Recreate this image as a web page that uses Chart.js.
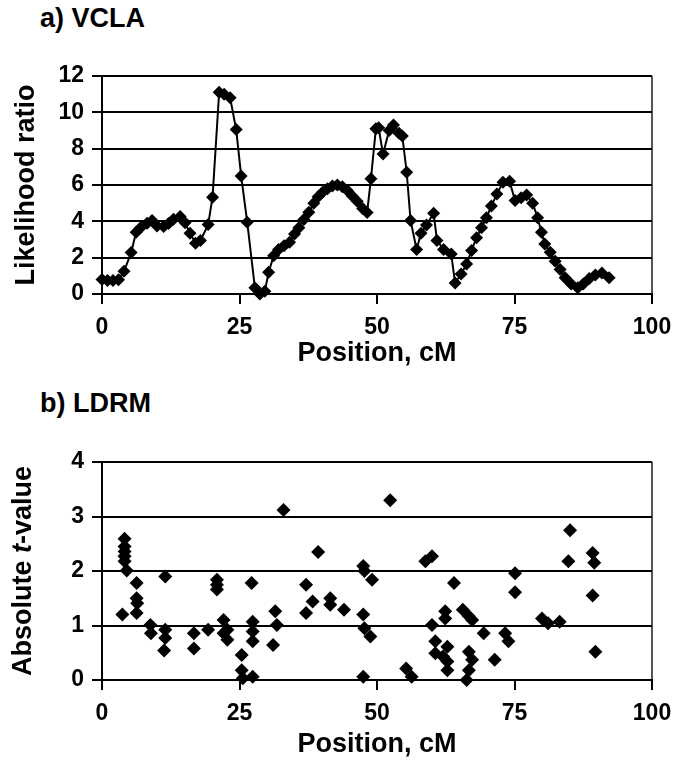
<!DOCTYPE html>
<html>
<head>
<meta charset="utf-8">
<script src="https://cdn.jsdelivr.net/npm/chart.js@4.4.1/dist/chart.umd.min.js"></script>
<style>
  body { margin: 0; background: #fff; }
  #wrap { position: relative; width: 675px; height: 763px; overflow: hidden; }
  canvas { position: absolute; left: 0; }
  .head { position: absolute; left: 40px; font: bold 27px "Liberation Sans", Arial, sans-serif; color: #000; }
</style>
</head>
<body>
<div id="wrap">
  <div class="head" style="top:3px">a) VCLA</div>
  <canvas id="vcla" width="675" height="380" style="top:0"></canvas>
  <div class="head" style="top:388px">b) LDRM</div>
  <canvas id="ldrm" width="675" height="383" style="top:380px"></canvas>
</div>
<script>
// a) VCLA - likelihood ratio along position
var vclaPos = [0, 1, 2, 3, 4, 5.3, 6.2, 7, 8.2, 9.1, 10, 11.2, 12.1, 13, 14.2, 15.1, 16, 17, 17.9, 19.3,
  20.1, 21.3, 22.2, 23.3, 24.4, 25.3, 26.4, 27.8, 28.7, 29.6, 30.3, 31.2, 32.1, 33.1, 34.1, 35, 35.8,
  36.7, 37.6, 38.5, 39.3, 40.1, 41, 41.9, 42.8, 43.7, 44.6, 45.5, 46.4, 47.4, 48.2, 48.9, 49.8, 50.3,
  51.1, 52.2, 53, 54, 54.6, 55.4, 56.1, 57.2, 58, 59, 60.3, 60.9, 62.1, 63.5, 64.2, 65.3, 66.3, 67.2,
  68.1, 69, 69.9, 70.8, 71.8, 72.9, 74.1, 75.1, 76.2, 77.2, 78.3, 79.2, 79.9, 80.5, 81.5, 82.4, 83.3,
  84.2, 85.3, 86.5, 87.5, 88.6, 89.7, 90.9, 92.2];
var vclaLR = [0.8, 0.75, 0.75, 0.78, 1.25, 2.28, 3.4, 3.65, 3.9, 4.05, 3.75, 3.72, 3.88, 4.12, 4.27, 3.92, 3.35, 2.8, 2.95, 3.82,
  5.33, 11.1, 11.0, 10.8, 9.05, 6.5, 3.95, 0.35, 0.0, 0.15, 1.2, 2.1, 2.45, 2.65, 2.85, 3.3, 3.65,
  4.1, 4.5, 5.0, 5.35, 5.6, 5.8, 5.95, 6.0, 5.9, 5.7, 5.4, 5.1, 4.7, 4.48, 6.35, 9.1, 9.15,
  7.7, 9.0, 9.3, 8.85, 8.7, 6.7, 4.05, 2.45, 3.35, 3.8, 4.45, 2.95, 2.45, 2.2, 0.6, 1.1, 1.65, 2.4,
  3.1, 3.65, 4.2, 4.85, 5.5, 6.15, 6.2, 5.15, 5.3, 5.45, 5.0, 4.2, 3.4, 2.75, 2.3, 1.8, 1.35,
  0.9, 0.55, 0.35, 0.55, 0.85, 1.05, 1.15, 0.9];

// b) LDRM - absolute t-value per marker
var ldrmPos = [4.1, 4.1, 4.1, 4.1, 4.1, 4.5, 3.7, 6.3, 6.3, 6.4, 6.3, 8.8, 8.9, 11.5, 11.5, 11.5, 11.3,
  16.7, 16.7, 19.3, 20.9, 20.9, 20.9, 22.1, 22.1, 22.8, 22.8, 25.4, 25.4, 25.6, 27.2, 27.4, 27.4, 27.4,
  27.4, 31.5, 31.8, 31.1, 33, 37.1, 37.1, 38.3, 39.3, 41.5, 41.5, 44, 47.5, 47.7, 47.5, 47.7, 48.8,
  49.1, 47.5, 52.4, 55.3, 56.3, 58.8, 60, 60, 60.6, 60.6, 62, 62.4, 62.4, 62.8, 62.8, 62.8, 64, 65.6,
  66.7, 67.3, 66.3, 66.7, 67.3, 66.7, 69.4, 71.4, 73.3, 73.9, 75.1, 75.1, 80, 81.1, 83.2, 85.1, 84.8,
  89.2, 89.5, 89.2, 89.7];
var ldrmT = [2.59, 2.45, 2.36, 2.27, 2.18, 2.01, 1.2, 1.78, 1.5, 1.41, 1.23, 1.01, 0.86, 1.9, 0.92, 0.77, 0.54,
  0.86, 0.58, 0.92, 1.84, 1.75, 1.66, 1.1, 0.86, 0.74, 0.92, 0.46, 0.18, 0.03, 1.78, 1.07, 0.89, 0.71,
  0.06, 1.26, 1.01, 0.64, 3.12, 1.75, 1.23, 1.44, 2.35, 1.5, 1.38, 1.29, 2.09, 2.0, 1.2, 0.95, 0.8,
  1.84, 0.06, 3.3, 0.21, 0.06, 2.18, 2.27, 1.01, 0.71, 0.49, 0.43, 1.26, 1.13, 0.61, 0.34, 0.18, 1.78, 1.29,
  1.17, 1.1, 0.0, 0.52, 0.37, 0.18, 0.86, 0.37, 0.86, 0.71, 1.96, 1.61, 1.13, 1.04, 1.07, 2.75, 2.18,
  2.33, 2.15, 1.55, 0.52];

var FONT = '"Liberation Sans", Arial, sans-serif';

function toPoints(xs, ys) {
  return xs.map(function (x, i) { return { x: x, y: ys[i] }; });
}

function xScale(height, titlePad) {
  return {
    type: 'linear', min: 0, max: 100,
    ticks: { stepSize: 25, color: '#000', padding: 10, font: { family: FONT, size: 23, weight: 'bold' } },
    grid: {
      color: function (c) { return c.tick && c.tick.value === 100 ? '#555' : 'rgba(0,0,0,0)'; },
      tickColor: '#000', lineWidth: 2, tickLength: 10
    },
    border: { color: '#000', width: 2 },
    title: { display: true, text: 'Position, cM', color: '#000',
      font: { family: FONT, size: 27, weight: 'bold' }, padding: { top: 0, bottom: titlePad } },
    afterFit: function (s) {
      s.height = height;
      // keep the plot edge where the layout padding puts it
      s.paddingLeft = 0;
      s.paddingRight = 0;
    }
  };
}

function yScale(max, step, title) {
  return {
    min: 0, max: max,
    ticks: { stepSize: step, color: '#000', padding: 8, font: { family: FONT, size: 23, weight: 'bold' } },
    grid: { color: '#000', lineWidth: 2, tickLength: 10 },
    border: { color: '#000', width: 2 },
    title: { display: !!title, text: title || '', color: '#000',
      font: { family: FONT, size: 27, weight: 'bold' }, padding: { top: 10, bottom: 0 } },
    afterFit: function (s) { s.width = 102; }
  };
}

var common = {
  responsive: false, animation: false, devicePixelRatio: 1,
  plugins: { legend: { display: false }, tooltip: { enabled: false } }
};

new Chart(document.getElementById('vcla').getContext('2d'), {
  type: 'line',
  data: { datasets: [{
    data: toPoints(vclaPos, vclaLR),
    borderColor: '#000', borderWidth: 2, tension: 0, clip: false,
    pointStyle: 'rectRot', pointRadius: 6.5, pointBackgroundColor: '#000', pointBorderWidth: 0
  }] },
  options: Object.assign({}, common, {
    layout: { padding: { left: 0, right: 23, top: 76, bottom: 0 } },
    scales: { x: xScale(86, 10), y: yScale(12, 2, 'Likelihood ratio') }
  })
});

// y title with an italic "t"
var tTitle = {
  id: 'tTitle',
  afterDraw: function (chart) {
    var ctx = chart.ctx, a = chart.chartArea;
    var parts = [['Absolute ', 'bold'], ['t', 'italic bold'], ['-value', 'bold']];
    ctx.save();
    ctx.translate(24, (a.top + a.bottom) / 2);
    ctx.rotate(-Math.PI / 2);
    ctx.fillStyle = '#000';
    ctx.textBaseline = 'middle';
    var total = 0;
    parts.forEach(function (p) { ctx.font = p[1] + ' 27px ' + FONT; total += ctx.measureText(p[0]).width; });
    var x = -total / 2;
    parts.forEach(function (p) {
      ctx.font = p[1] + ' 27px ' + FONT;
      ctx.fillText(p[0], x, 0);
      x += ctx.measureText(p[0]).width;
    });
    ctx.restore();
  }
};

new Chart(document.getElementById('ldrm').getContext('2d'), {
  type: 'scatter',
  data: { datasets: [{
    data: toPoints(ldrmPos, ldrmT), clip: false,
    pointStyle: 'rectRot', pointRadius: 7, pointBackgroundColor: '#000', pointBorderWidth: 0
  }] },
  options: Object.assign({}, common, {
    layout: { padding: { left: 0, right: 23, top: 82, bottom: 0 } },
    scales: { x: xScale(83, 2), y: yScale(4, 1, '') }
  }),
  plugins: [tTitle]
});
</script>
</body>
</html>
